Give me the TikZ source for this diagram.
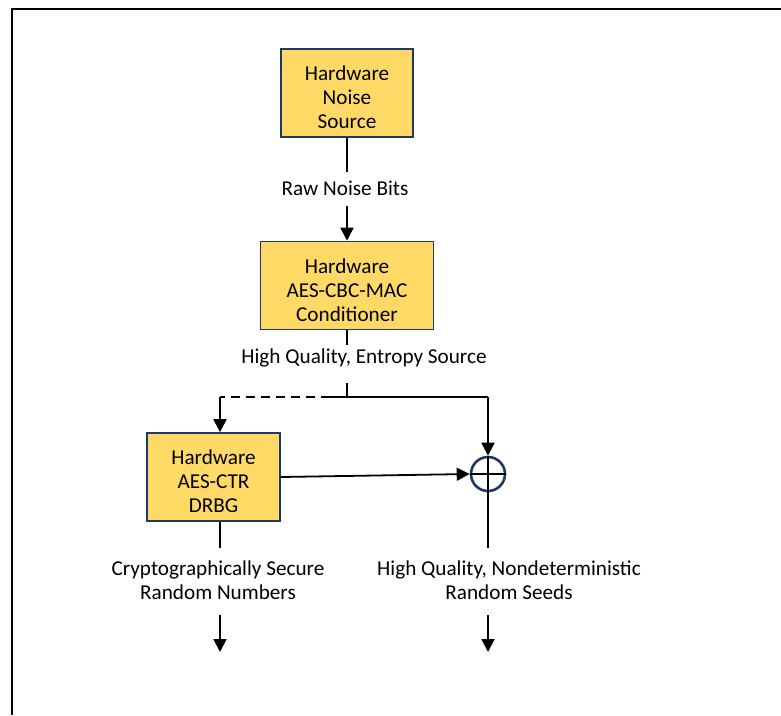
\documentclass[tikz,border=0pt]{standalone}
\usepackage{fontspec}
\setmainfont{Carlito}
\usetikzlibrary{arrows.meta}
\definecolor{gold}{HTML}{FFD966}
\definecolor{navy}{HTML}{1F3864}
\newcommand\blocktext[1]{\raisebox{-7pt}[\height][\depth]{\begin{tabular}{@{}c@{}}#1\end{tabular}}}
\begin{document}
\begin{tikzpicture}[x=1pt,y=-1pt,
  blockbox/.style={draw=navy, line width=1.6pt, fill=gold, inner sep=0pt,
    minimum height=88pt, font=\fontsize{21.2}{24}\selectfont},
  lbl/.style={align=center, inner sep=0pt, font=\fontsize{21.2}{24}\selectfont},
  wire/.style={line width=1.8pt},
  arr/.style={wire, -{Triangle[width=13pt,length=13pt]}},
  xorc/.style={circle, draw=navy, line width=2.6pt, minimum size=34pt, inner sep=0pt}]
\useasboundingbox (0,0) rectangle (781,715);
% frame
\coordinate (fa) at (12,715);
\coordinate (fb) at (12,9);
\coordinate (fc) at (781,9);
\draw[line width=2.6pt] (fa) -- (fb) -- (fc);
% blocks
\node[blockbox, minimum width=132pt] (b1) at (347,93) {\blocktext{Hardware\\Noise\\Source}};
\node[blockbox, minimum width=173pt] (b2) at (347,285.5) {\blocktext{Hardware\\AES-CBC-MAC\\Conditioner}};
\node[blockbox, minimum width=133pt] (b3) at (213.5,477) {\blocktext{Hardware\\AES-CTR\\DRBG}};
\node[xorc] (x) at (488,474) {};
\draw[wire] (x.north) -- (x.south) (x.west) -- (x.east);
% labels
\node[lbl] (raw) at (345,188) {Raw Noise Bits};
\node[lbl] (ent) at (364,358) {High Quality, Entropy Source};
\node[lbl] (crs) at (218,580) {Cryptographically Secure\\Random Numbers};
\node[lbl] (hqs) at (509,580) {High Quality, Nondeterministic\\Random Seeds};
% coordinates
\coordinate (r1) at (347,172);
\coordinate (r2) at (347,206);
\coordinate (e1) at (347,345);
\coordinate (e2) at (347,383);
\coordinate (j) at (347,397);
\coordinate (js) at (330,397);
\coordinate (jl) at (220,397);
\coordinate (jr) at (488,397);
\coordinate (c1) at (220,548);
\coordinate (c2) at (220,615);
\coordinate (c3) at (220,652);
\coordinate (s1) at (488,548);
\coordinate (s2) at (488,615);
\coordinate (s3) at (488,652);
% connectors
\draw[wire] (b1.south) -- (r1);
\draw[arr] (r2) -- (b2.north);
\draw[wire] (b2.south) -- (e1);
\draw[wire] (e2) -- (j);
\draw[wire] (js) -- (jr);
\draw[arr] (jr) -- (x.north);
\draw[wire, dashed, dash pattern=on 9pt off 6pt] (js) -- (jl);
\draw[arr] (jl) -- (b3.north -| jl);
\draw[arr] (b3.east) -- (x.west);
\draw[wire] (b3.south -| c1) -- (c1);
\draw[arr] (c2) -- (c3);
\draw[wire] (x.south) -- (s1);
\draw[arr] (s2) -- (s3);
\end{tikzpicture}
\end{document}
